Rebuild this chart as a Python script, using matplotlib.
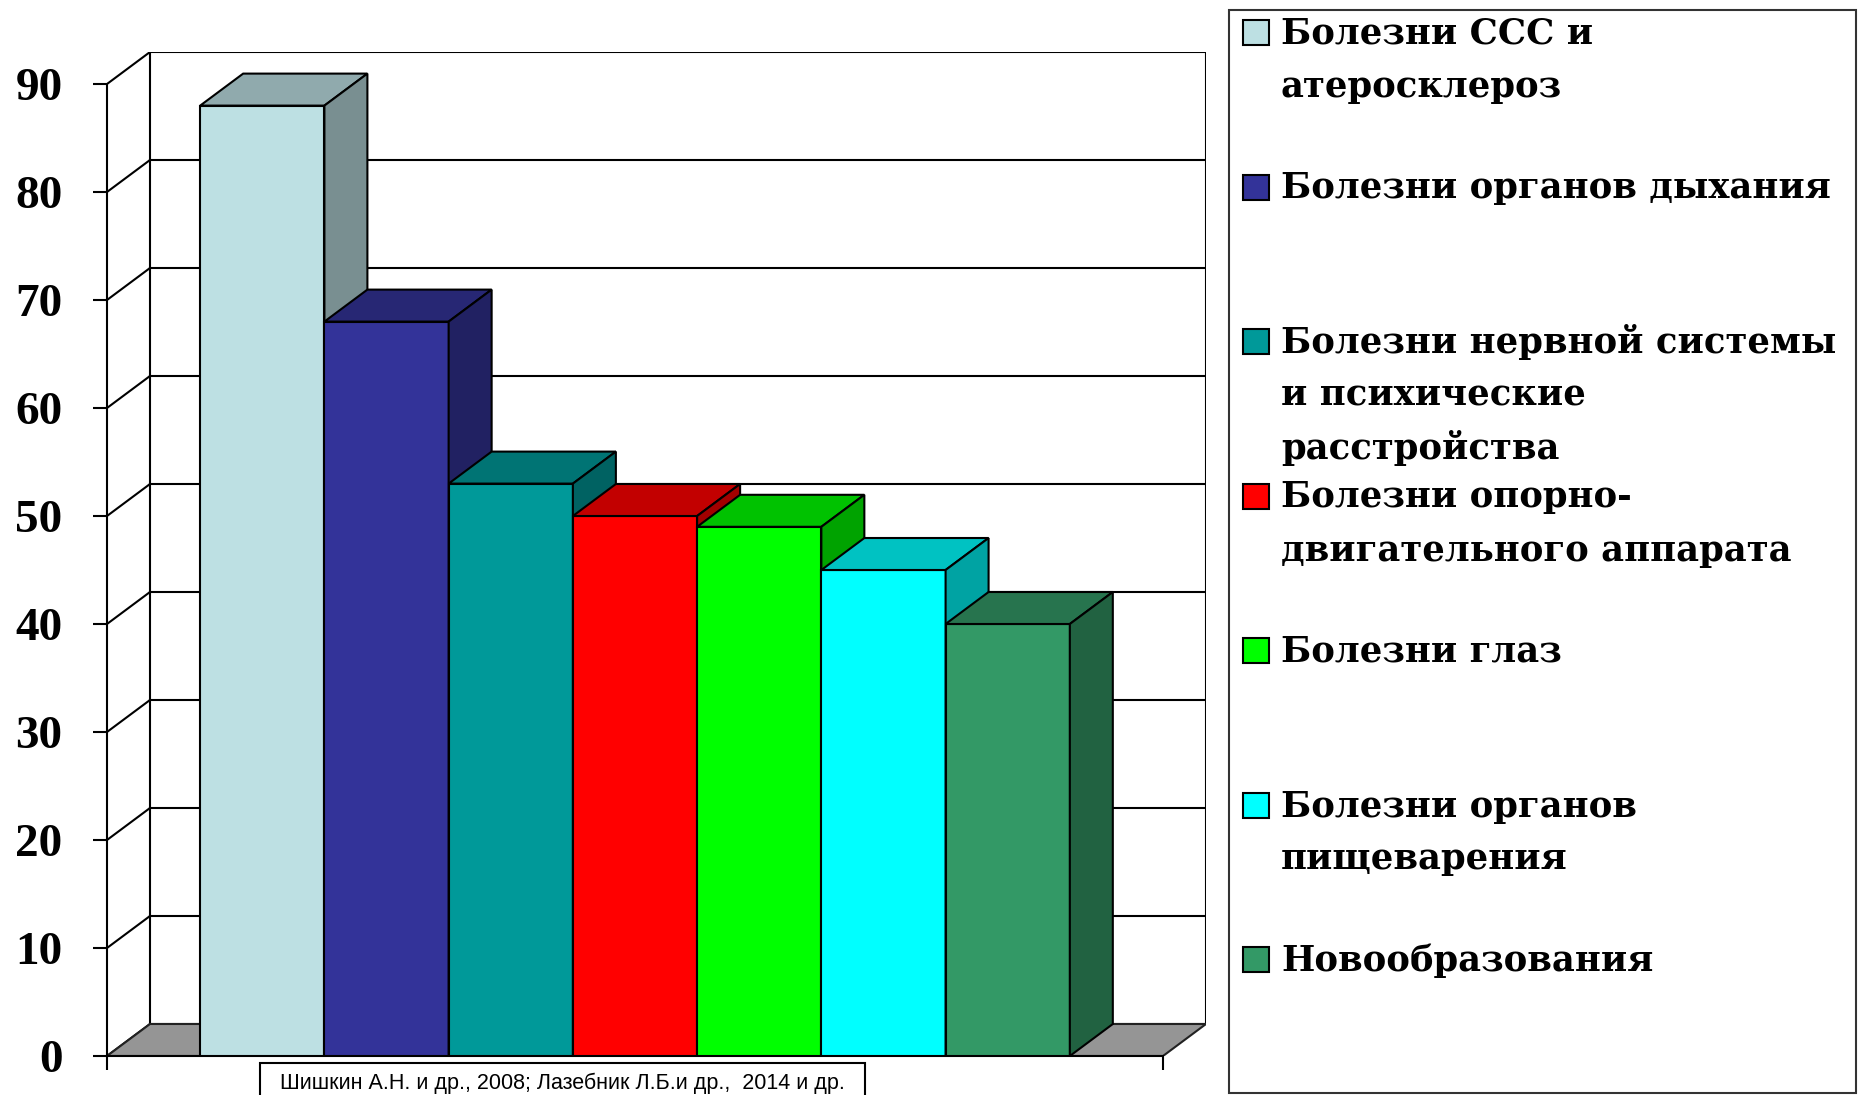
import matplotlib.pyplot as plt
from matplotlib.patches import Polygon, Rectangle
from matplotlib.colors import to_rgb

# data
categories = [
    'Болезни ССС и\nатеросклероз',
    'Болезни органов дыхания',
    'Болезни нервной системы\nи психические\nрасстройства',
    'Болезни опорно-\nдвигательного аппарата',
    'Болезни глаз',
    'Болезни органов\nпищеварения',
    'Новообразования',
]
values = [88, 68, 53, 50, 49, 45, 40]
colors = ['#BDE0E3', '#333399', '#009999', '#FF0000', '#00FF00', '#00FFFF', '#339966']
yticks = [0, 10, 20, 30, 40, 50, 60, 70, 80, 90]
source = 'Шишкин А.Н. и др., 2008; Лазебник Л.Б.и др.,  2014 и др.'

# figure size in pixels
W, H = 1859, 1095
DX, DY = 0.346, 2.963      # depth of the 3d box in data units
GAP = 0.75                 # empty floor on each side of the bars
XMAX = GAP * 2 + len(values)
YMAX = 90


def shade(c, k):
    r, g, b = to_rgb(c)
    return (r * k, g * k, b * k)


def fx(px):
    return px / W


def fy(py):
    return 1 - py / H


fig = plt.figure(figsize=(W / 100, H / 100), dpi=100)
ax = fig.add_axes([fx(107), fy(1056), (1206 - 107) / W, (1056 - 52) / H])
ax.set_xlim(0, XMAX + DX)
ax.set_ylim(0, YMAX + DY)

lw = 1.5
# back wall grid lines and side wall diagonals
for v in yticks:
    ax.plot([DX, XMAX + DX], [v + DY, v + DY], color='black', lw=lw, zorder=1)
    ax.plot([0, DX], [v, v + DY], color='black', lw=lw, zorder=1)
ax.plot([DX, DX], [DY, YMAX + DY], color='black', lw=lw, zorder=1)
ax.plot([XMAX + DX, XMAX + DX], [DY, YMAX + DY], color='black', lw=lw, zorder=1)

# floor
ax.add_patch(Polygon([(0, 0), (XMAX, 0), (XMAX + DX, DY), (DX, DY)],
                     closed=True, facecolor='#959595', edgecolor='#222222',
                     lw=lw, zorder=2))

# bars: front face, top and side
for i, (v, c) in enumerate(zip(values, colors)):
    x0 = GAP + i
    z = 3 + i
    ax.bar(x0, v, width=1, align='edge', color=c, edgecolor='black',
           lw=lw, zorder=z)
    top = [(x0, v), (x0 + 1, v), (x0 + 1 + DX, v + DY), (x0 + DX, v + DY)]
    side = [(x0 + 1, 0), (x0 + 1 + DX, DY), (x0 + 1 + DX, v + DY), (x0 + 1, v)]
    ax.add_patch(Polygon(top, closed=True, facecolor=shade(c, 0.76),
                         edgecolor='black', lw=lw, zorder=z))
    ax.add_patch(Polygon(side, closed=True, facecolor=shade(c, 0.64),
                         edgecolor='black', lw=lw, zorder=z))

for s in ['top', 'right']:
    ax.spines[s].set_visible(False)
ax.spines['left'].set_bounds(0, YMAX)
ax.spines['bottom'].set_bounds(0, XMAX)
ax.spines['left'].set_linewidth(lw)
ax.spines['bottom'].set_linewidth(lw)
ax.spines['left'].set_zorder(20)
ax.set_yticks(yticks)
ax.set_yticklabels([str(t) for t in yticks], fontfamily='Liberation Serif',
                   fontweight='bold', fontsize=34)
ax.set_xticks([0, XMAX])
ax.set_xticklabels(['', ''])
ax.tick_params(axis='y', length=10, width=lw, pad=22)
ax.tick_params(axis='x', length=10, width=lw)
ax.patch.set_visible(False)

# legend box
fig.add_artist(Rectangle((fx(1229), fy(1093)), (1856 - 1229) / W, (1093 - 10) / H,
                         transform=fig.transFigure, facecolor='none',
                         edgecolor='#333333', lw=1.5))
base0, step, line_h = 44, 154.5, 53
for i, (lab, c) in enumerate(zip(categories, colors)):
    b = base0 + i * step
    fig.add_artist(Rectangle((fx(1243), fy(b + 1)), 26 / W, 25 / H,
                             transform=fig.transFigure, facecolor=c,
                             edgecolor='black', lw=1.5))
    for j, line in enumerate(lab.split('\n')):
        fig.text(fx(1281), fy(b + j * line_h), line, fontfamily='DejaVu Serif',
                 fontweight='bold', fontsize=25.5, va='baseline', ha='left')

# source note
fig.add_artist(Rectangle((fx(260), fy(1100)), (865 - 260) / W, (1100 - 1063) / H,
                         transform=fig.transFigure, facecolor='white',
                         edgecolor='black', lw=1.5))
fig.text(fx(562), fy(1083), source, fontfamily='Liberation Sans', fontsize=15.5,
         ha='center', va='center')

fig.savefig('out.png', dpi=100, facecolor='white')
